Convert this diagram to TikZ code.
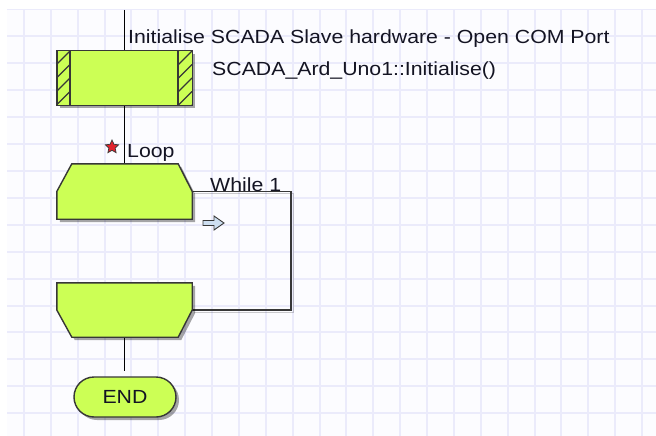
\documentclass[tikz,border=0pt]{standalone}
\usepackage{fontspec}
\setmainfont{Liberation Sans}[FakeStretch=1.12]
\usetikzlibrary{shapes.geometric}

\begin{document}
\begin{tikzpicture}[x=1pt, y=-1pt,
    icon/.style={draw=edgecol, line width=1.4pt, fill=limefill,
        preaction={fill=black, opacity=0.35, transform canvas={xshift=3pt, yshift=-3pt}}},
    flow/.style={draw=black, line width=1.4pt},
    box/.style={minimum width=135pt, minimum height=54pt, inner sep=0pt},
    lbl/.style={font=\fontsize{19}{22}\selectfont, inner sep=0pt, text=txtcol}]
    % Define colors
    \definecolor{limefill}{RGB}{204,255,85}
    \definecolor{edgecol}{RGB}{55,55,55}
    \definecolor{gridcol}{RGB}{235,235,251}
    \definecolor{gridbg}{RGB}{252,252,255}
    \definecolor{txtcol}{RGB}{20,20,35}
    \definecolor{arrowfill}{RGB}{205,222,240}
    \definecolor{starred}{RGB}{225,35,45}

    \useasboundingbox (0,0) rectangle (656,436);

    % Grid paper
    \fill[white] (0,0) rectangle (656,436);
    \fill[gridbg] (7,10) rectangle (656,436);
    \begin{scope}
        \clip (7,10) rectangle (656,436);
        \foreach \i in {0,...,23}
            \draw[gridcol, line width=2pt] ({24+26.87*\i},10) -- ++(0,426);
        \foreach \j in {0,...,16}
            \draw[gridcol, line width=2pt] (7,{9.3+26.93*\j}) -- ++(649,0);
    \end{scope}

    % Icon places
    \coordinate (entry) at (124.5,10);
    \node[box] (init) at (124.5,78) {};
    \node[box, minimum height=55pt] (loopbeg) at (124.5,191.5) {};
    \node[box] (loopend) at (124.5,310) {};
    \coordinate (loopright) at (291,250);

    % Connectors
    \draw[flow] (entry) -- (init.north);
    \draw[flow] (init.south) -- (loopbeg.north);
    \draw[flow, shorten >=6pt] (loopend.south) -- (124.5,377);
    \draw[draw=edgecol, line width=1.3pt,
        preaction={draw=black, opacity=0.2, transform canvas={xshift=2pt, yshift=-2pt}}]
        (loopbeg.east) -- (loopbeg.east -| loopright) |- (loopend.east);

    % Macro call icon
    \draw[icon] (init.north west) rectangle (init.south east);
    \begin{scope}
        \clip (57,51) rectangle (70,105);
        \foreach \k in {-1,...,4}
            \draw[edgecol, line width=1.1pt] (57,{64+13.5*\k}) -- (70,{51+13.5*\k});
    \end{scope}
    \begin{scope}
        \clip (178,51) rectangle (192,105);
        \foreach \k in {-1,...,4}
            \draw[edgecol, line width=1.1pt] (178,{65+13.5*\k}) -- (192,{51+13.5*\k});
    \end{scope}
    \draw[edgecol, line width=1.4pt] (70,51) -- (70,105);
    \draw[edgecol, line width=1.4pt] (178,51) -- (178,105);
    \draw[edgecol, line width=1.4pt] (init.north west) rectangle (init.south east);

    % Loop start and loop end
    \draw[icon] ([xshift=15pt]loopbeg.north west) -- ([xshift=-14pt]loopbeg.north east)
        -- (loopbeg.east) -- (loopbeg.south east) -- (loopbeg.south west)
        -- (loopbeg.west) -- cycle;
    \draw[icon] (loopend.north west) -- (loopend.north east) -- (loopend.east)
        -- ([xshift=-14pt]loopend.south east) -- ([xshift=15pt]loopend.south west)
        -- (loopend.west) -- cycle;

    % End
    \node[icon, lbl, minimum width=102pt, minimum height=40pt, rounded corners=20pt] (stop) at (125,397) {END};

    % Loop marker and arrow
    \node[star, star points=5, star point ratio=2.1, minimum size=14pt, inner sep=0pt,
        fill=starred, draw=edgecol, line width=0.7pt] (loopstar) at (112,147) {};
    \draw[edgecol, fill=arrowfill, line width=0.9pt] (203,220.5) -- (214,220.5) -- (214,216)
        -- (224,223) -- (214,230) -- (214,225.5) -- (203,225.5) -- cycle;

    % Labels
    \node[lbl, anchor=base west] (initlbl) at (128,44) {Initialise SCADA Slave hardware - Open COM Port};
    \node[lbl, anchor=base west] (initcall) at (212,75) {SCADA\_Ard\_Uno1::Initialise()};
    \node[lbl, anchor=base west] (looplbl) at (127,157) {Loop};
    \node[lbl, anchor=base west] (whilelbl) at (210,191) {While 1};
\end{tikzpicture}
\end{document}
